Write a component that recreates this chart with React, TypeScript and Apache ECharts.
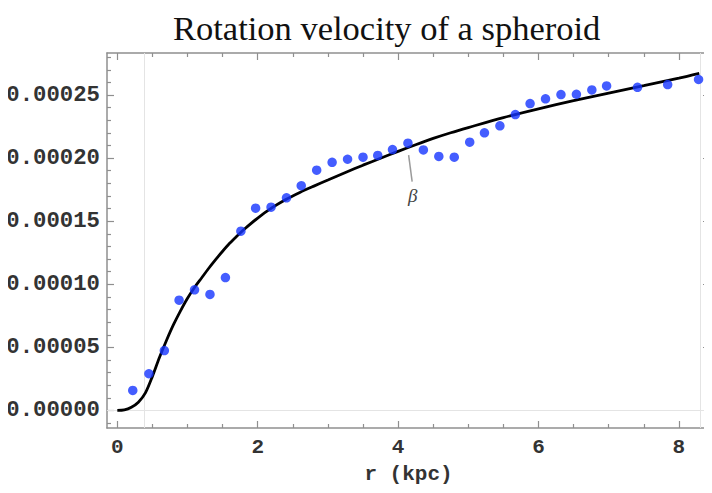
import React, { useEffect, useRef } from "react";
import * as echarts from "echarts";

const pointR = [0.22, 0.45, 0.67, 0.88, 1.10, 1.32, 1.54, 1.76, 1.97, 2.19, 2.41, 2.62, 2.84, 3.06, 3.28, 3.50, 3.71, 3.92, 4.14, 4.36, 4.58, 4.80, 5.02, 5.23, 5.45, 5.67, 5.88, 6.10, 6.32, 6.54, 6.76, 6.97, 7.41, 7.84, 8.28];
const pointV = [0.0000159, 0.0000291, 0.0000475, 0.0000874, 0.0000956, 0.0000920, 0.0001053, 0.0001421, 0.0001603, 0.0001611, 0.0001685, 0.0001781, 0.0001904, 0.0001967, 0.0001991, 0.0002007, 0.0002021, 0.0002068, 0.0002118, 0.0002065, 0.0002013, 0.0002007, 0.0002126, 0.0002200, 0.0002256, 0.0002345, 0.0002432, 0.0002470, 0.0002504, 0.0002506, 0.0002540, 0.0002572, 0.0002561, 0.0002583, 0.0002623];

const curveR = [0, 0.1, 0.2, 0.3, 0.4, 0.5, 0.6, 0.7, 0.8, 0.9, 1.0, 1.1, 1.2, 1.3, 1.4, 1.5, 1.6, 1.7, 1.8, 2.0, 2.2, 2.4, 2.6, 2.8, 3.0, 3.25, 3.5, 3.75, 4.0, 4.25, 4.5, 4.75, 5.0, 5.5, 6.0, 6.5, 7.0, 7.5, 8.0, 8.29];
const curveV = [0, 0.0000004, 0.0000025, 0.0000065, 0.0000139, 0.0000270, 0.0000420, 0.0000555, 0.0000680, 0.0000790, 0.0000890, 0.0000975, 0.0001050, 0.0001125, 0.0001195, 0.0001262, 0.0001325, 0.0001380, 0.0001432, 0.0001525, 0.0001605, 0.0001672, 0.0001728, 0.0001778, 0.0001826, 0.0001886, 0.0001944, 0.0001999, 0.0002053, 0.0002106, 0.0002156, 0.0002201, 0.0002242, 0.0002321, 0.0002391, 0.0002455, 0.0002515, 0.0002574, 0.0002634, 0.0002672];

const xMajor = [0, 2, 4, 6, 8];
const xMinor = [0.5, 1, 1.5, 2.5, 3, 3.5, 4.5, 5, 5.5, 6.5, 7, 7.5];
const yMajor = [0, 0.00005, 0.0001, 0.00015, 0.0002, 0.00025];
const yMinor = [-0.00001, 0.00001, 0.00002, 0.00003, 0.00004, 0.00006, 0.00007, 0.00008, 0.00009, 0.00011, 0.00012, 0.00013, 0.00014, 0.00016, 0.00017, 0.00018, 0.00019, 0.00021, 0.00022, 0.00023, 0.00024, 0.00026, 0.00027, 0.00028];

const guideX = [0.39, 8.30];
const guideY = [0, 0.0002672];

const title = "Rotation velocity of a spheroid";
const xName = "r (kpc)";
const curveLabel = "β";

const X_MIN = -0.147;
const X_MAX = 8.443;
const Y_MIN = -0.0000139;
const Y_MAX = 0.0002833;

const FRAME = "#8f8f8f";
const MONO = "Liberation Mono";

function xAxisDef(position: string, ticks: number[], len: number, labels: boolean, line: boolean) {
  return {
    type: "value",
    position,
    min: X_MIN,
    max: X_MAX,
    axisLine: { show: line, onZero: false, lineStyle: { color: FRAME, width: 1.5 } },
    axisTick: { show: true, inside: true, length: len, customValues: ticks, lineStyle: { color: FRAME, width: 1.2 } },
    axisLabel: labels
      ? { show: true, customValues: xMajor, margin: 9, fontFamily: MONO, fontWeight: "bold", fontSize: 21, color: "#333", formatter: (v: number) => String(Math.round(v)) }
      : { show: false },
    splitLine: { show: false },
  };
}

function yAxisDef(position: string, ticks: number[], len: number, labels: boolean, line: boolean) {
  return {
    type: "value",
    position,
    min: Y_MIN,
    max: Y_MAX,
    axisLine: { show: line, onZero: false, lineStyle: { color: FRAME, width: 1.5 } },
    axisTick: { show: true, inside: true, length: len, customValues: ticks, lineStyle: { color: FRAME, width: 1.2 } },
    axisLabel: labels
      ? { show: true, customValues: yMajor, margin: 7, fontFamily: MONO, fontWeight: "bold", fontSize: 22.3, color: "#333", formatter: (v: number) => v.toFixed(5) }
      : { show: false },
    splitLine: { show: false },
  };
}

export default function App() {
  const ref = useRef<HTMLDivElement>(null);
  useEffect(() => {
    if (!ref.current) return;
    const chart = echarts.init(ref.current, null, { renderer: "svg" });
    const xAxes = [
      { ...xAxisDef("bottom", xMajor, 7, true, true), name: xName, nameLocation: "middle", nameGap: 36, nameTextStyle: { fontFamily: MONO, fontWeight: "bold", fontSize: 21, color: "#333" } },
      xAxisDef("bottom", xMinor, 4, false, false),
      xAxisDef("top", xMajor, 7, false, true),
      xAxisDef("top", xMinor, 4, false, false),
    ];
    const yAxes = [
      yAxisDef("left", yMajor, 7, true, true),
      yAxisDef("left", yMinor, 4, false, false),
      yAxisDef("right", yMajor, 7, false, true),
      yAxisDef("right", yMinor, 4, false, false),
    ];
    const guideLines: any[] = [
      ...guideX.map((x) => ({ xAxis: x })),
      ...guideY.map((y) => ({ yAxis: y })),
    ];
    chart.setOption({
      animation: false,
      backgroundColor: "#ffffff",
      title: {
        text: title,
        left: 168,
        top: 5,
        textStyle: { fontFamily: "Liberation Serif", fontSize: 34.5, fontWeight: "normal", color: "#111" },
      },
      grid: { left: 107, right: 2, top: 53, bottom: 65, containLabel: false },
      xAxis: xAxes,
      yAxis: yAxes,
      series: [
        {
          type: "line",
          name: "guides",
          data: [],
          xAxisIndex: 0,
          yAxisIndex: 0,
          silent: true,
          z: 1,
          markLine: {
            silent: true,
            symbol: "none",
            z: 1,
            label: { show: false },
            lineStyle: { color: "#e4e4e4", width: 1, type: "solid" },
            data: guideLines,
          },
        },
        {
          type: "line",
          name: "model",
          xAxisIndex: 0,
          yAxisIndex: 0,
          data: curveR.map((r, i) => [r, curveV[i]]),
          smooth: 0.3,
          showSymbol: false,
          symbol: "none",
          lineStyle: { color: "#000", width: 2.8 },
          z: 5,
          markLine: {
            silent: true,
            symbol: "none",
            lineStyle: { color: "#9a9a9a", width: 1.5, type: "solid", curveness: -0.25 },
            label: {
              show: true,
              position: "end",
              distance: 4,
              formatter: curveLabel,
              fontFamily: "Liberation Serif",
              fontStyle: "italic",
              fontSize: 19,
              color: "#444",
            },
            data: [[{ coord: [4.15, 0.0002024] }, { coord: [4.2, 0.0001813] }]],
          },
        },
        {
          type: "scatter",
          name: "data",
          xAxisIndex: 0,
          yAxisIndex: 0,
          data: pointR.map((r, i) => [r, pointV[i]]),
          symbol: "circle",
          symbolSize: 9.5,
          itemStyle: { color: "#1535ff" },
          z: 6,
        },
      ],
    });
    return () => chart.dispose();
  }, []);
  return <div ref={ref} style={{ width: 712, height: 493, margin: -8 }} />;
}
